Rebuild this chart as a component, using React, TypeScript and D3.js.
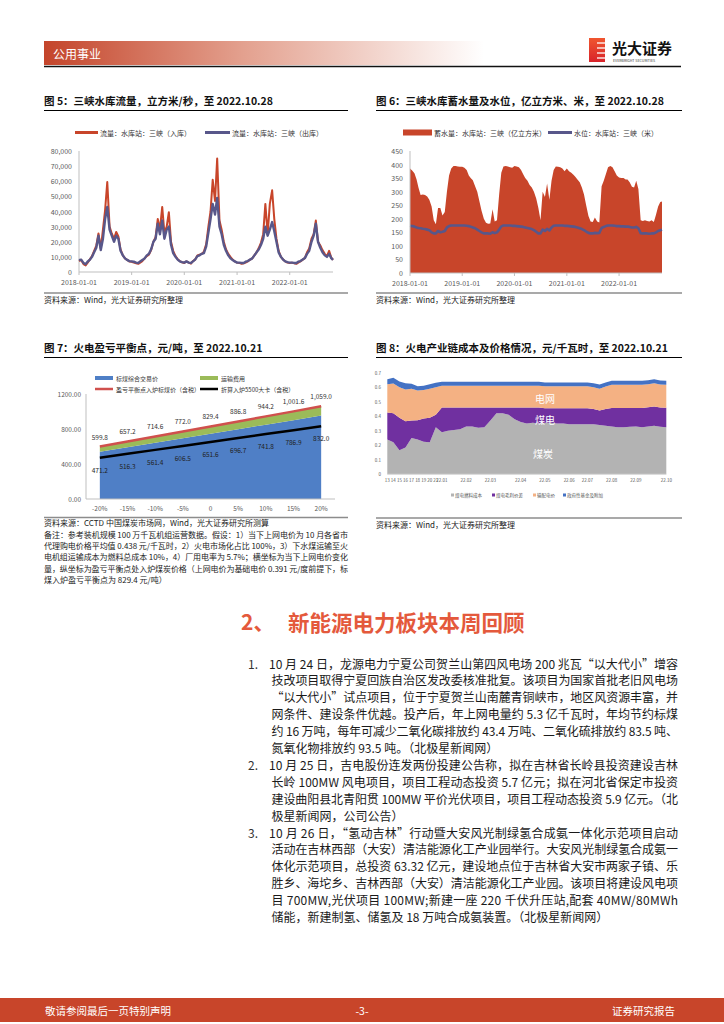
import React from "react";
import * as d3 from "d3";

const FONT = '"Noto Sans CJK SC", "Noto Sans", sans-serif';
const RED = "#C8452A";
const SLATE = "#58578A";
const AXIS = "#595959";

// ---- fig 5 / fig 6 : semi-monthly readings, 2018-01-01 .. 2022-10-28
const inflow2018 = [7200, 8000, 5200, 4300, 6000, 8200, 10500, 14000, 17500, 25500, 15500, 28000, 41000, 59500, 30000, 25500, 22000, 26500, 23500, 15000, 11000, 9000, 8000, 7000];
const inflow2019 = [6800, 6200, 5800, 5400, 6200, 7200, 9000, 10500, 11500, 14500, 20000, 23000, 35000, 28000, 43000, 26000, 30000, 39500, 20000, 14000, 10500, 8500, 7200, 6400];
const inflow2020 = [6000, 7000, 6200, 5500, 7200, 8200, 11000, 11500, 12000, 13500, 18500, 30000, 40000, 61000, 47000, 75000, 34000, 28000, 20000, 15000, 12000, 10000, 8200, 7000];
const inflow2021 = [6200, 6000, 5400, 5800, 6200, 7000, 8200, 9000, 11000, 13000, 16000, 19500, 25000, 45000, 25000, 45000, 54000, 35000, 22000, 14000, 10000, 8200, 7000, 6200];
const inflow2022 = [6000, 6200, 5800, 5400, 6200, 7000, 8200, 9200, 13000, 15500, 22000, 25000, 34000, 20000, 17500, 14500, 12000, 10500, 14000, 9500, 8000];

const outflow2018 = [7800, 8200, 6000, 5200, 6800, 8000, 10000, 13000, 16000, 24000, 14500, 22000, 35000, 43000, 28000, 24000, 20000, 24000, 22000, 14000, 11000, 9000, 8000, 7200];
const outflow2019 = [7000, 6800, 6200, 6000, 7000, 8000, 9000, 11000, 12000, 15000, 20000, 22000, 32000, 25000, 34000, 22000, 28000, 30000, 18000, 12500, 10000, 8200, 7000, 6500];
const outflow2020 = [6200, 7000, 6200, 6000, 7000, 8200, 10500, 11000, 12000, 12500, 17000, 26000, 35000, 45000, 38000, 49000, 30000, 25000, 18000, 14000, 11000, 9000, 8000, 7000];
const outflow2021 = [6200, 6200, 6000, 6000, 6800, 7200, 8200, 9000, 11000, 13000, 15000, 18000, 22000, 30000, 24000, 28000, 33000, 27000, 20000, 13000, 10000, 8200, 7000, 6500];
const outflow2022 = [6200, 6200, 6000, 6000, 6800, 7200, 8200, 9200, 12000, 14000, 20000, 24000, 32000, 20000, 16000, 13000, 11000, 10000, 12000, 9200, 8000];

const storage2018 = [385, 378, 368, 345, 315, 288, 290, 288, 282, 270, 245, 195, 180, 240, 240, 212, 225, 300, 360, 385, 395, 395, 393, 392];
const storage2019 = [392, 388, 380, 360, 350, 342, 320, 300, 265, 230, 200, 185, 182, 183, 235, 190, 195, 290, 370, 393, 395, 393, 390, 388];
const storage2020 = [395, 393, 390, 380, 365, 350, 340, 325, 315, 300, 275, 240, 195, 300, 280, 330, 270, 340, 380, 393, 392, 390, 385, 375];
const storage2021 = [385, 375, 370, 362, 355, 345, 335, 315, 290, 250, 210, 190, 188, 205, 190, 186, 320, 340, 365, 390, 395, 390, 375, 360];
const storage2022 = [352, 350, 350, 345, 345, 335, 318, 315, 340, 310, 195, 192, 195, 192, 190, 195, 188, 215, 245, 262, 264];

const level2018 = [174, 173, 171, 168, 166, 165, 163, 162, 160, 158, 150, 146, 146, 155, 150, 152, 155, 168, 173, 175, 175, 175, 175, 175];
const level2019 = [175, 175, 174, 173, 171, 168, 165, 160, 155, 150, 146, 146, 146, 145, 150, 147, 150, 160, 172, 175, 175, 175, 175, 174];
const level2020 = [174, 173, 172, 171, 170, 168, 166, 164, 162, 158, 152, 146, 146, 160, 155, 163, 157, 168, 174, 175, 175, 175, 175, 174];
const level2021 = [174, 173, 172, 171, 170, 168, 165, 162, 158, 153, 148, 146, 146, 148, 147, 148, 166, 170, 173, 175, 175, 175, 174, 173];
const level2022 = [173, 172, 172, 171, 171, 170, 168, 168, 170, 165, 147, 146, 146, 146, 145, 146, 146, 150, 155, 158, 160];

const inflow = [...inflow2018, ...inflow2019, ...inflow2020, ...inflow2021, ...inflow2022];
const outflow = [...outflow2018, ...outflow2019, ...outflow2020, ...outflow2021, ...outflow2022];
const storage = [...storage2018, ...storage2019, ...storage2020, ...storage2021, ...storage2022];
const level = [...level2018, ...level2019, ...level2020, ...level2021, ...level2022];

const dates: Date[] = [];
for (let yr = 2018; yr <= 2022; yr++) {
  for (let m = 0; m < 12; m++) {
    if (yr === 2022 && m > 9) continue;
    dates.push(new Date(yr, m, 1));
    dates.push(new Date(yr, m, 16));
  }
}
dates.push(new Date(2022, 9, 28));

// ---- fig 7
const fig7Cats = ["-20%", "-15%", "-10%", "-5%", "0", "5%", "10%", "15%", "20%"];
const fig7Coal = [539.8, 591.5, 643.1, 694.8, 746.5, 798.1, 849.8, 901.4, 953.1];
const fig7Freight = [60.0, 65.7, 71.5, 77.2, 82.9, 88.7, 94.4, 100.2, 105.9];
const fig7Breakeven = [599.8, 657.2, 714.6, 772.0, 829.4, 886.8, 944.2, 1001.6, 1059.0];
const fig7Coal5500 = [471.2, 516.3, 561.4, 606.5, 651.6, 696.7, 741.8, 786.9, 832.0];
const fig7Ticks = [0, 400, 800, 1200];

// ---- fig 8
const fig8Labels = ["13", "14", "15", "16", "17", "18", "19", "20", "21", "22.01", "", "", "", "22.02", "", "", "", "22.03", "", "", "", "", "22.04", "", "", "", "22.05", "", "", "", "22.06", "", "", "22.07", "", "", "", "22.08", "", "", "", "22.09", "", "", "", "", "22.10"];
const fig8Coal = [0.24, 0.22, 0.165, 0.185, 0.25, 0.24, 0.225, 0.22, 0.325, 0.29, 0.30, 0.305, 0.31, 0.33, 0.33, 0.32, 0.325, 0.37, 0.42, 0.42, 0.41, 0.38, 0.36, 0.35, 0.355, 0.35, 0.355, 0.355, 0.35, 0.35, 0.345, 0.345, 0.345, 0.345, 0.345, 0.34, 0.335, 0.33, 0.325, 0.325, 0.328, 0.33, 0.325, 0.33, 0.335, 0.328, 0.325];
const fig8Margin = [0.185, 0.20, 0.225, 0.18, 0.12, 0.132, 0.16, 0.17, 0.085, 0.17, 0.16, 0.155, 0.15, 0.13, 0.13, 0.14, 0.135, 0.09, 0.04, 0.04, 0.05, 0.08, 0.10, 0.11, 0.105, 0.11, 0.10, 0.10, 0.105, 0.105, 0.11, 0.11, 0.11, 0.11, 0.105, 0.10, 0.115, 0.127, 0.132, 0.132, 0.129, 0.127, 0.132, 0.132, 0.132, 0.132, 0.133];
const fig8Grid = [0.195, 0.205, 0.21, 0.22, 0.22, 0.206, 0.195, 0.20, 0.19, 0.15, 0.15, 0.15, 0.15, 0.15, 0.15, 0.15, 0.15, 0.15, 0.15, 0.15, 0.15, 0.15, 0.15, 0.15, 0.15, 0.15, 0.152, 0.152, 0.152, 0.152, 0.152, 0.152, 0.152, 0.152, 0.15, 0.15, 0.155, 0.16, 0.16, 0.16, 0.16, 0.16, 0.16, 0.158, 0.16, 0.158, 0.159];
const fig8Fund = [0.035, 0.04, 0.04, 0.043, 0.034, 0.029, 0.03, 0.03, 0.03, 0.027, 0.027, 0.027, 0.027, 0.027, 0.027, 0.027, 0.027, 0.027, 0.027, 0.027, 0.027, 0.027, 0.027, 0.027, 0.027, 0.027, 0.025, 0.025, 0.025, 0.025, 0.025, 0.025, 0.025, 0.025, 0.028, 0.028, 0.027, 0.028, 0.028, 0.028, 0.028, 0.028, 0.028, 0.028, 0.028, 0.028, 0.028];
const fig8Keys = ["coal", "margin", "grid", "fund"];
const fig8Names = ["煤电燃料成本", "煤电毛利价差", "输配电价", "政府性基金及附加"];
const fig8Colors = ["#B3B3B3", "#7030A0", "#F4B183", "#4472C4"];

// ---- text
const notes7 = [
  "备注：参考装机规模 100 万千瓦机组运营数据。假设：1）当下上网电价为 10 月各省市",
  "代理购电价格平均值 0.438 元/千瓦时，2）火电市场化占比 100%，3）下水煤运输至火",
  "电机组运输成本为燃料总成本 10%，4）厂用电率为 5.7%；横坐标为当下上网电价变化",
  "量，纵坐标为盈亏平衡点处入炉煤炭价格（上网电价为基础电价 0.391 元/度前提下，标",
  "煤入炉盈亏平衡点为 829.4 元/吨）",
];

const items = [
  [
    "10 月 24 日，龙源电力宁夏公司贺兰山第四风电场 200 兆瓦“以大代小”增容",
    "技改项目取得宁夏回族自治区发改委核准批复。该项目为国家首批老旧风电场",
    "“以大代小”试点项目，位于宁夏贺兰山南麓青铜峡市，地区风资源丰富，并",
    "网条件、建设条件优越。投产后，年上网电量约 5.3 亿千瓦时，年均节约标煤",
    "约 16 万吨，每年可减少二氧化碳排放约 43.4 万吨、二氧化硫排放约 83.5 吨、",
    "氮氧化物排放约 93.5 吨。（北极星新闻网）",
  ],
  [
    "10 月 25 日，吉电股份连发两份投建公告称，拟在吉林省长岭县投资建设吉林",
    "长岭 100MW 风电项目，项目工程动态投资 5.7 亿元；拟在河北省保定市投资",
    "建设曲阳县北青阳贯 100MW 平价光伏项目，项目工程动态投资 5.9 亿元。（北",
    "极星新闻网，公司公告）",
  ],
  [
    "10 月 26 日，“氢动吉林”行动暨大安风光制绿氢合成氨一体化示范项目启动",
    "活动在吉林西部（大安）清洁能源化工产业园举行。大安风光制绿氢合成氨一",
    "体化示范项目，总投资 63.32 亿元，建设地点位于吉林省大安市两家子镇、乐",
    "胜乡、海坨乡、吉林西部（大安）清洁能源化工产业园。该项目将建设风电项",
    "目 700MW,光伏项目 100MW;新建一座 220 千伏升压站,配套 40MW/80MWh",
    "储能，新建制氢、储氢及 18 万吨合成氨装置。（北极星新闻网）",
  ],
];

function Title({ x, y, x2, text }: { x: number; y: number; x2: number; text: string }) {
  return (
    <g>
      <text x={x} y={y} fontSize={10.5} fontWeight="bold" fill="#111">{text}</text>
      <line x1={x} x2={x2} y1={y + 5.5} y2={y + 5.5} stroke="#000" strokeWidth={1} />
    </g>
  );
}

function Source({ x, x2, y, text }: { x: number; x2: number; y: number; text: string }) {
  return (
    <g>
      <line x1={x} x2={x2} y1={y} y2={y} stroke="#8c8c8c" strokeWidth={1.5} />
      <text x={x} y={y + 10} fontSize={8} fill="#222">{text}</text>
    </g>
  );
}

function Fig5() {
  const x = d3.scaleTime().domain([dates[0], dates[dates.length - 1]]).range([79, 333]);
  const y = d3.scaleLinear().domain([0, 80000]).range([272, 151]);
  const ln = d3.line<number>().x((_, i) => x(dates[i])).y((d) => y(d));
  const fmt = d3.format(",");
  return (
    <g>
      <Title x={44} y={105} x2={348} text="图 5：三峡水库流量，立方米/秒，至 2022.10.28" />
      <line x1={75} x2={98} y1={132.5} y2={132.5} stroke={RED} strokeWidth={3} />
      <text x={100} y={132.5} dominantBaseline="central" fontSize={7} fill="#333">流量：水库站：三峡（入库）</text>
      <line x1={205} x2={230} y1={132.5} y2={132.5} stroke={SLATE} strokeWidth={3} />
      <text x={232} y={132.5} dominantBaseline="central" fontSize={7} fill="#333">流量：水库站：三峡（出库）</text>
      {y.ticks(8).map((t) => (
        <text key={t} x={72} y={y(t)} textAnchor="end" dominantBaseline="central" fontSize={7} fill={AXIS}>{fmt(t)}</text>
      ))}
      <line x1={79} x2={79} y1={151} y2={272} stroke="#BFBFBF" />
      <line x1={79} x2={333} y1={272} y2={272} stroke="#BFBFBF" />
      {x.ticks(d3.timeYear.every(1)!).map((t) => (
        <g key={+t}>
          <line x1={x(t)} x2={x(t)} y1={272} y2={275} stroke="#BFBFBF" />
          <text x={x(t)} y={282} textAnchor="middle" dominantBaseline="central" fontSize={7} fill={AXIS}>{d3.timeFormat("%Y-%m-%d")(t)}</text>
        </g>
      ))}
      <path d={ln(inflow) || ""} fill="none" stroke={RED} strokeWidth={2} strokeLinejoin="round" />
      <path d={ln(outflow) || ""} fill="none" stroke={SLATE} strokeWidth={2.4} strokeLinejoin="round" />
      <Source x={44} x2={348} y={293} text="资料来源：Wind，光大证券研究所整理" />
    </g>
  );
}

function Fig6() {
  const x = d3.scaleTime().domain([dates[0], dates[dates.length - 1]]).range([410, 662]);
  const y = d3.scaleLinear().domain([0, 450]).range([273, 151]);
  const area = d3.area<number>().x((_, i) => x(dates[i])).y0(y(0)).y1((d) => y(d));
  const ln = d3.line<number>().x((_, i) => x(dates[i])).y((d) => y(d));
  return (
    <g>
      <Title x={376} y={105} x2={682} text="图 6：三峡水库蓄水量及水位，亿立方米、米，至 2022.10.28" />
      <rect x={403} y={129.5} width={29} height={6} fill={RED} />
      <text x={434} y={132.5} dominantBaseline="central" fontSize={7} fill="#333">蓄水量：水库站：三峡（亿立方米）</text>
      <line x1={548} x2={572} y1={132.5} y2={132.5} stroke={SLATE} strokeWidth={3} />
      <text x={574} y={132.5} dominantBaseline="central" fontSize={7} fill="#333">水位：水库站：三峡（米）</text>
      {y.ticks(9).map((t) => (
        <text key={t} x={403} y={y(t)} textAnchor="end" dominantBaseline="central" fontSize={7} fill={AXIS}>{t}</text>
      ))}
      <path d={area(storage) || ""} fill={RED} />
      <path d={ln(level) || ""} fill="none" stroke={SLATE} strokeWidth={2.6} strokeLinejoin="round" />
      <line x1={410} x2={410} y1={151} y2={273} stroke="#BFBFBF" />
      <line x1={410} x2={662} y1={273} y2={273} stroke="#BFBFBF" />
      {x.ticks(d3.timeYear.every(1)!).map((t) => (
        <g key={+t}>
          <line x1={x(t)} x2={x(t)} y1={273} y2={276} stroke="#BFBFBF" />
          <text x={x(t)} y={283} textAnchor="middle" dominantBaseline="central" fontSize={7} fill={AXIS}>{d3.timeFormat("%Y-%m-%d")(t)}</text>
        </g>
      ))}
      <Source x={376} x2={682} y={293} text="资料来源：Wind，光大证券研究所整理" />
    </g>
  );
}

function Fig7() {
  const x = d3.scaleBand().domain(fig7Cats).range([86, 335]);
  const cx = (i: number) => (x(fig7Cats[i]) as number) + x.bandwidth() / 2;
  const y = d3.scaleLinear().domain([0, 1200]).range([499, 394]);
  const rows = fig7Cats.map((_, i) => ({ coal: fig7Coal[i], freight: fig7Freight[i] }));
  const series = d3.stack<any>().keys(["coal", "freight"])(rows);
  const area = d3.area<any>().x((_, i) => cx(i)).y0((d) => y(d[0])).y1((d) => y(d[1]));
  const ln = d3.line<number>().x((_, i) => cx(i)).y((d) => y(d));
  const f1 = d3.format(",.1f");
  return (
    <g>
      <Title x={44} y={352} x2={348} text="图 7：火电盈亏平衡点，元/吨，至 2022.10.21" />
      <rect x={95} y={376} width={18} height={4} fill="#4F7FC6" />
      <text x={116} y={378} dominantBaseline="central" fontSize={6} fill="#333">标煤综合交易价</text>
      <rect x={200} y={376} width={18} height={4} fill="#9BBB59" />
      <text x={221} y={378} dominantBaseline="central" fontSize={6} fill="#333">运输费用</text>
      <line x1={95} x2={113} y1={389} y2={389} stroke="#D0504D" strokeWidth={2.5} />
      <text x={116} y={389} dominantBaseline="central" fontSize={6} fill="#333">盈亏平衡点入炉标煤价（含税）</text>
      <line x1={200} x2={218} y1={389} y2={389} stroke="#000" strokeWidth={2.5} />
      <text x={221} y={389} dominantBaseline="central" fontSize={6} fill="#333">折算入炉5500大卡（含税）</text>
      {fig7Ticks.map((t) => (
        <text key={t} x={81} y={y(t)} textAnchor="end" dominantBaseline="central" fontSize={6.5} fill={AXIS}>{d3.format(".2f")(t)}</text>
      ))}
      <path d={area(series[0]) || ""} fill="#4F7FC6" />
      <path d={area(series[1]) || ""} fill="#9BBB59" />
      <path d={ln(fig7Breakeven) || ""} fill="none" stroke="#D0504D" strokeWidth={2.5} />
      <path d={ln(fig7Coal5500) || ""} fill="none" stroke="#000" strokeWidth={2.5} />
      <line x1={86} x2={86} y1={394} y2={499} stroke="#BFBFBF" />
      <line x1={86} x2={335} y1={499} y2={499} stroke="#BFBFBF" />
      {fig7Cats.map((c, i) => (
        <g key={c}>
          <text x={cx(i)} y={508} textAnchor="middle" dominantBaseline="central" fontSize={6.5} fill={AXIS}>{c}</text>
          <text x={cx(i)} y={y(fig7Breakeven[i]) - 10} textAnchor="middle" dominantBaseline="central" fontSize={6.5} fill="#333">{f1(fig7Breakeven[i])}</text>
          <text x={cx(i)} y={y(fig7Coal5500[i]) + 12} textAnchor="middle" dominantBaseline="central" fontSize={6.5} fill="#222">{f1(fig7Coal5500[i])}</text>
        </g>
      ))}
      <line x1={44} x2={348} y1={517.5} y2={517.5} stroke="#8c8c8c" strokeWidth={1.5} />
      <text x={44} y={526} fontSize={8} fill="#222">资料来源：CCTD 中国煤炭市场网，Wind，光大证券研究所测算</text>
      {notes7.map((s, i) => (
        <text key={i} x={44} y={538 + i * 11.2} fontSize={8} fill="#222"
          {...(i < notes7.length - 1 ? { textLength: 304, lengthAdjust: "spacing" } : {})}>{s}</text>
      ))}
    </g>
  );
}

function Fig8() {
  const n = fig8Labels.length;
  const x = d3.scaleLinear().domain([0, n - 1]).range([387.3, 666.3]);
  const y = d3.scaleLinear().domain([0, 0.7]).range([474.3, 372.7]);
  const rows = fig8Labels.map((_, i) => ({ coal: fig8Coal[i], margin: fig8Margin[i], grid: fig8Grid[i], fund: fig8Fund[i] }));
  const series = d3.stack<any>().keys(fig8Keys)(rows);
  const area = d3.area<any>().x((_, i) => x(i)).y0((d) => y(d[0])).y1((d) => y(d[1]));
  const legX = [451, 492, 533, 563];
  return (
    <g>
      <Title x={376} y={352} x2={682} text="图 8：火电产业链成本及价格情况，元/千瓦时，至 2022.10.21" />
      {series.map((s, k) => (
        <path key={k} d={area(s) || ""} fill={fig8Colors[k]} />
      ))}
      <line x1={387.3} x2={666.3} y1={474.3} y2={474.3} stroke="#D9D9D9" />
      {y.ticks(7).map((t) => (
        <text key={t} x={381} y={y(t)} textAnchor="end" dominantBaseline="central" fontSize={4.5} fill={AXIS}>{d3.format("~g")(t)}</text>
      ))}
      {fig8Labels.map((l, i) => l ? (
        <text key={i} x={x(i)} y={479.5} textAnchor="middle" dominantBaseline="central" fontSize={4.5} fill={AXIS}>{l}</text>
      ) : null)}
      <text x={545} y={398} textAnchor="middle" dominantBaseline="central" fontSize={10} fill="#fff">电网</text>
      <text x={545} y={419} textAnchor="middle" dominantBaseline="central" fontSize={10} fill="#fff">煤电</text>
      <text x={543} y={453} textAnchor="middle" dominantBaseline="central" fontSize={10} fill="#fff">煤炭</text>
      {fig8Names.map((nm, k) => (
        <g key={nm}>
          <rect x={legX[k]} y={493.5} width={3} height={3} fill={fig8Colors[k]} />
          <text x={legX[k] + 4} y={495} dominantBaseline="central" fontSize={4.5} fill={AXIS}>{nm}</text>
        </g>
      ))}
      <Source x={376} x2={682} y={518} text="资料来源：Wind，光大证券研究所整理" />
    </g>
  );
}

function Header() {
  return (
    <g>
      <defs>
        <linearGradient id="hdr" x1="0" x2="1" y1="0" y2="0">
          <stop offset="0" stopColor="#C4452B" />
          <stop offset="0.45" stopColor="#E3A08E" />
          <stop offset="1" stopColor="#FFFFFF" />
        </linearGradient>
        <linearGradient id="logo" x1="0" x2="0" y1="0" y2="1">
          <stop offset="0" stopColor="#F0562F" />
          <stop offset="1" stopColor="#D8232A" />
        </linearGradient>
      </defs>
      <rect x={44} y={41} width={440} height={24} fill="url(#hdr)" />
      <text x={53} y={53} dominantBaseline="central" fontSize={12} fill="#fff">公用事业</text>
      <line x1={44} x2={681} y1={66.5} y2={66.5} stroke="#111" strokeWidth={1.5} />
      <rect x={589} y={38} width={16} height={24} fill="url(#logo)" />
      {[43, 48, 53, 58].map((yy) => (
        <line key={yy} x1={597} x2={606} y1={yy} y2={yy} stroke="#fff" strokeWidth={1.3} />
      ))}
      <text x={612} y={47.5} dominantBaseline="central" fontSize={15} fontWeight="bold" fill="#111">光大证券</text>
      <text x={613} y={60.5} dominantBaseline="central" fontSize={3.6} fill="#333">EVERBRIGHT SECURITIES</text>
    </g>
  );
}

function Body() {
  let row = 0;
  return (
    <g>
      <text x={241} y={621} dominantBaseline="central" fontSize={21} fontWeight="bold" fill="#E4593C">2、</text>
      <text x={288} y={621} dominantBaseline="central" fontSize={21.5} fontWeight="bold" fill="#E4593C">新能源电力板块本周回顾</text>
      {items.map((lines, k) => (
        <g key={k}>
          <text x={248} y={663 + row * 16.9} dominantBaseline="central" fontSize={12} fill="#333">{`${k + 1}.`}</text>
          {lines.map((s, j) => {
            const yy = 663 + (row++) * 16.9;
            const x0 = j === 0 ? 269 : 271.5;
            const just = j < lines.length - 1 ? { textLength: 678 - x0, lengthAdjust: "spacing" } : {};
            return (
              <text key={j} x={x0} y={yy} dominantBaseline="central" fontSize={12} fill="#1a1a1a" {...just}>{s}</text>
            );
          })}
        </g>
      ))}
    </g>
  );
}

function Footer() {
  return (
    <g>
      <rect x={0} y={998} width={724} height={24} fill={RED} />
      <text x={45} y={1010} dominantBaseline="central" fontSize={10.5} fill="#fff">敬请参阅最后一页特别声明</text>
      <text x={362} y={1010} textAnchor="middle" dominantBaseline="central" fontSize={10.5} fill="#fff">-3-</text>
      <text x={675} y={1010} textAnchor="end" dominantBaseline="central" fontSize={10.5} fill="#fff">证券研究报告</text>
    </g>
  );
}

export default function App() {
  return (
    <svg width={724} height={1024} viewBox="0 0 724 1024"
      style={{ position: "absolute", left: 0, top: 0, background: "#fff", fontFamily: FONT }}>
      <rect width={724} height={1024} fill="#fff" />
      <Header />
      <Fig5 />
      <Fig6 />
      <Fig7 />
      <Fig8 />
      <Body />
      <Footer />
    </svg>
  );
}
